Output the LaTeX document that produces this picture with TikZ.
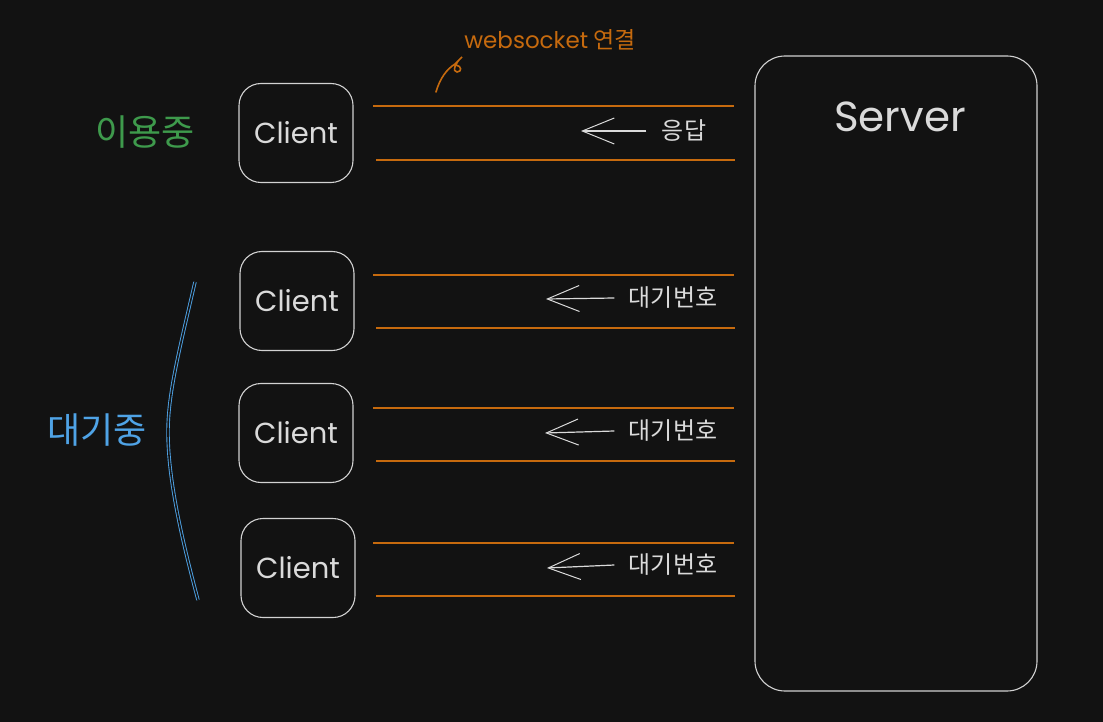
\documentclass[tikz,border=0pt]{standalone}
\usepackage{fontspec}
\setmainfont{Noto Sans CJK KR}
\newfontfamily\handfont{Poppins}
\usepackage{xcolor}
\definecolor{SKbg}{HTML}{121212}
\definecolor{SKline}{HTML}{D2D2D2}
\definecolor{SKtext}{HTML}{DADADA}
\definecolor{SKorange}{HTML}{C66A0E}
\definecolor{SKgreen}{HTML}{3E9A4C}
\definecolor{SKblue}{HTML}{4FA3E6}
\usepackage{tikz}
\usetikzlibrary{arrows.meta, positioning}

\begin{document}
\begin{tikzpicture}[x=1pt, y=-1pt]
  \tikzset{
  clientnode/.style={draw=SKline, rounded corners=22pt, line width=1.1pt,
    minimum width=114pt, minimum height=99pt,
    text=SKtext, font=\handfont\fontsize{29}{33}\selectfont},
  servernode/.style={draw=SKline, rounded corners=30pt, line width=1.1pt,
    minimum width=282pt, minimum height=635pt},
  srvlbl/.style={text=SKtext, font=\handfont\fontsize{42}{46}\selectfont},
  wsline/.style={SKorange, line width=1.8pt},
  resp/.style={SKtext, line width=1.2pt,
    -{Straight Barb[length=32pt, width=26pt, line width=1pt]}},
  rlbl/.style={text=SKtext, font=\fontsize{24}{28}\selectfont},
  wslbl/.style={text=SKorange, font=\fontsize{23}{27}\selectfont},
  state/.style={font=\fontsize{36}{40}\selectfont},
}
% ── Canvas ───────────────────────────────────────────────────
\useasboundingbox (0,0) rectangle (1103,722);
\fill[SKbg] (0,0) rectangle (1103,722);

% ── Server ───────────────────────────────────────────────────
\node[servernode] (server) at (896,373.5) {};
\node[srvlbl] (srvname) at (900,117) {Server};

% ── Clients ──────────────────────────────────────────────────
\node[clientnode] (c1) at (296,133) {Client};
\node[clientnode] (c2) at (297,301) {Client};
\node[clientnode] (c3) at (296,433) {Client};
\node[clientnode] (c4) at (298,568) {Client};

% ── Websocket connections ────────────────────────────────────
\foreach \ya/\yb in {106/160, 275/328, 408/461, 543/596}{
  \draw[wsline] (373,\ya) -- (734,\ya);
  \draw[wsline] (376,\yb) -- (735,\yb);
}

% ── Responses ────────────────────────────────────────────────
\node[rlbl] (r1) at (684,131) {응답};
\node[rlbl] (r2) at (673,298) {대기번호};
\node[rlbl] (r3) at (673,431) {대기번호};
\node[rlbl] (r4) at (673,565) {대기번호};
\coordinate (t1) at (581,131);
\coordinate (t2) at (546,299);
\coordinate (t3) at (545,433);
\coordinate (t4) at (547,568);
\draw[resp] ([xshift=-12pt]r1.west) -- (t1);
\foreach \i in {2,3,4}{
  \draw[resp] ([xshift=-11pt]r\i.west) -- (t\i);
}

% ── Websocket label ──────────────────────────────────────────
\node[wslbl] (ws) at (550,40) {{\handfont websocket} 연결};
\coordinate (wsfoot) at (436,92);
\draw[SKorange, line width=1.6pt, line cap=round]
  (wsfoot) .. controls (440,78) and (447,69) .. (455,64)
  -- (462,57)
  .. controls (455,63) and (452,72) .. (457,72)
  .. controls (462,72) and (462,66) .. (456,65);

% ── States ───────────────────────────────────────────────────
\node[state, text=SKgreen] (inuse) at (145,132) {이용중};
\node[state, text=SKblue] (waiting) at (97,430) {대기중};
\draw[SKblue, line width=0.9pt, double=SKbg, double distance=1.6pt]
  (195,282) .. controls (178,355) and (168,395) .. (168,432)
  .. controls (168,480) and (182,540) .. (198,600);

  \end{tikzpicture}
\end{document}
